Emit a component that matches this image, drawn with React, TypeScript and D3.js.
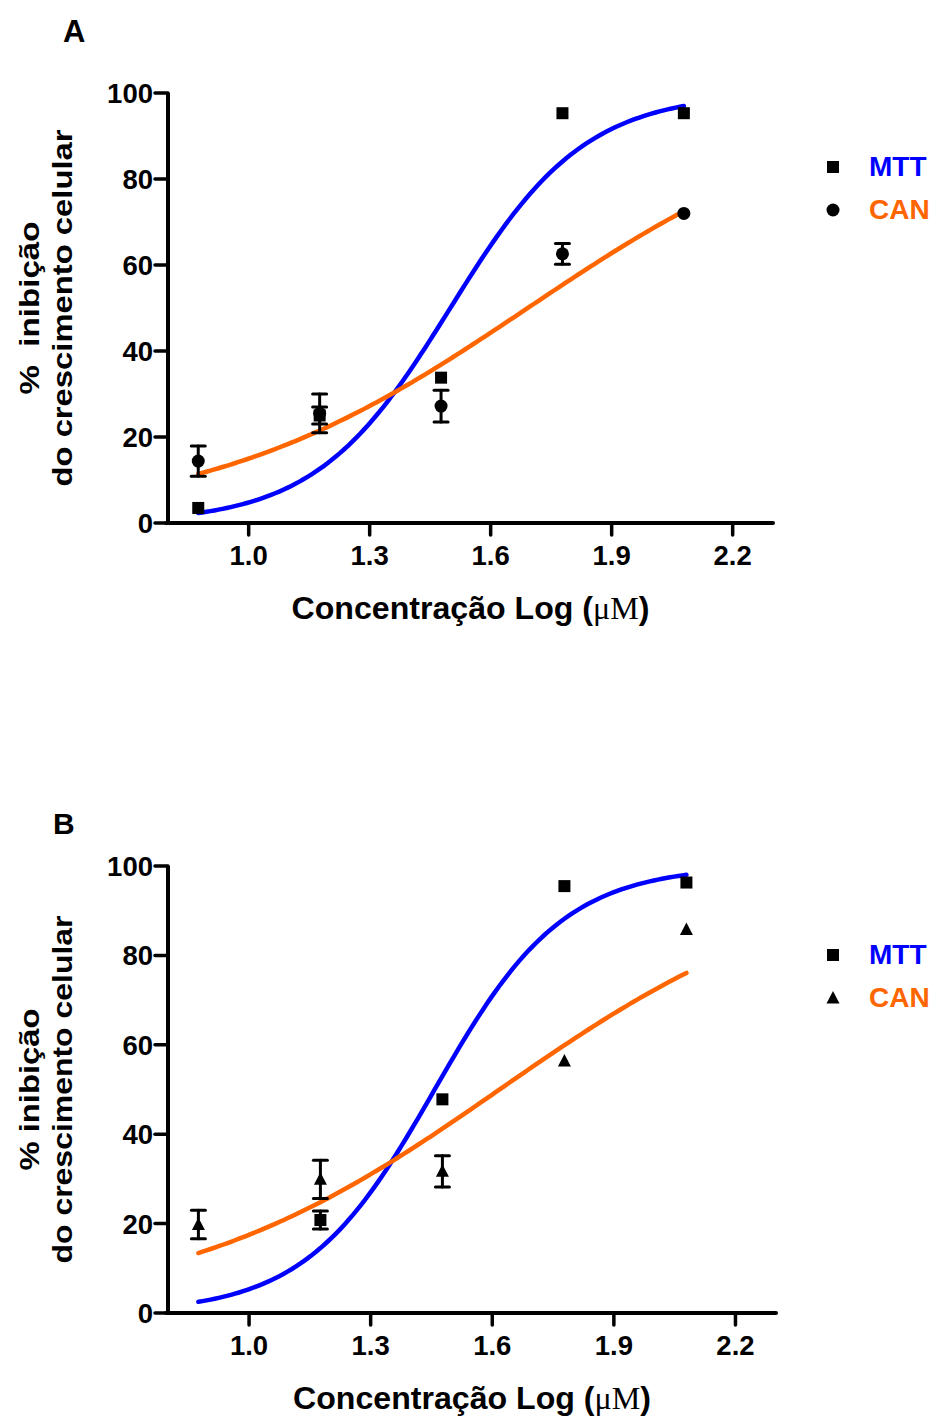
import React from 'react';
import * as d3 from 'd3';

// ---------- data ----------
const xTicks = [1.0, 1.3, 1.6, 1.9, 2.2];
const yTicks = [0, 20, 40, 60, 80, 100];
const logConc = [0.875, 1.176, 1.477, 1.778, 2.079];

// Panel A
const mttA: (number | null)[] = [3.5, 25.0, 33.8, 95.3, 95.3];
const mttAErr = [0, 2.0, 0, 0, 0];
const canA: (number | null)[] = [14.4, 25.5, 27.2, 62.6, 72.0];
const canAErr = [3.5, 4.5, 3.7, 2.4, 0];

// Panel B
const mttB: (number | null)[] = [null, 20.8, 47.8, 95.5, 96.3];
const mttBErr = [0, 2.0, 0, 0, 0];
const canB: (number | null)[] = [19.8, 29.9, 31.7, 56.4, 85.8];
const canBErr = [3.2, 4.3, 3.5, 0, 0];

// sigmoidal dose-response fits: [bottom, top, logEC50, hill slope]
const fitMttA = [0, 100, 1.5, 2.6];
const fitCanA = [0, 100, 1.692, 1.09];
const fitMttB = [0, 100, 1.458, 2.73];
const fitCanB = [0, 100, 1.618, 1.09];

const seriesNames = ['MTT', 'CAN'];
const BLUE = '#0000ff';
const ORANGE = '#ff6600';
const SANS = '"Liberation Sans", Arial, Helvetica, sans-serif';
const SERIF = '"Liberation Serif", "Times New Roman", serif';

function fitValue(p: number[], x: number) {
  const [b, t, ec, h] = p;
  return b + (t - b) / (1 + Math.pow(10, (ec - x) * h));
}

type Shape = 'square' | 'circle' | 'triangle';

function Marker({ shape, cx, cy }: { shape: Shape; cx: number; cy: number }) {
  if (shape === 'square') return <rect x={cx - 6} y={cy - 6} width={12} height={12} fill="#000" />;
  if (shape === 'circle') return <circle cx={cx} cy={cy} r={6.5} fill="#000" />;
  return <path d={`M${cx},${cy - 7}L${cx + 6.5},${cy + 5.5}L${cx - 6.5},${cy + 5.5}Z`} fill="#000" />;
}

type PanelProps = {
  x0: number; x1: number; yTop: number; yBot: number;
  mtt: (number | null)[]; mttErr: number[];
  can: (number | null)[]; canErr: number[];
  fitMtt: number[]; fitCan: number[];
  canShape: Shape;
  label: string; labelX: number; labelY: number; labelSize: number;
  yTitle1: string; yTitle1Len: number; yTitle2Len: number;
  legX: number; legTextX: number; legY1: number; legY2: number;
};

function Panel(p: PanelProps) {
  const x = d3.scaleLinear().domain([0.8, 2.3]).range([p.x0, p.x1]);
  const y = d3.scaleLinear().domain([0, 100]).range([p.yBot, p.yTop]);
  const xs = d3.range(0, 121).map((i) => logConc[0] + (logConc[4] - logConc[0]) * (i / 120));
  const mttPath = d3.line<number>().x((d) => x(d)).y((d) => y(fitValue(p.fitMtt, d)))(xs) || '';
  const canPath = d3.line<number>().x((d) => x(d)).y((d) => y(fitValue(p.fitCan, d)))(xs) || '';
  const yMid = (p.yTop + p.yBot) / 2;
  const xMid = (p.x0 + p.x1) / 2;

  const errBars = (vals: (number | null)[], errs: number[], key: string) =>
    vals.map((v, i) => {
      if (v == null || !errs[i]) return null;
      const cx = x(logConc[i]);
      const yA = y(v + errs[i]);
      const yB = y(v - errs[i]);
      return (
        <g key={key + i} stroke="#000" strokeWidth={3} strokeLinecap="round">
          <line x1={cx} x2={cx} y1={yA} y2={yB} />
          <line x1={cx - 7} x2={cx + 7} y1={yA} y2={yA} />
          <line x1={cx - 7} x2={cx + 7} y1={yB} y2={yB} />
        </g>
      );
    });

  return (
    <g>
      <text x={p.labelX} y={p.labelY} fontFamily={SANS} fontWeight="bold" fontSize={p.labelSize}>{p.label}</text>

      {/* axes */}
      <g stroke="#000" strokeWidth={4} fill="none">
        <line x1={p.x0} x2={p.x0} y1={p.yTop} y2={p.yBot + 2} />
        <line x1={p.x0 - 2} x2={p.x1} y1={p.yBot} y2={p.yBot} strokeLinecap="round" />
        {yTicks.map((t) => (
          <line key={'yt' + t} x1={p.x0 - 13} x2={p.x0} y1={y(t)} y2={y(t)} strokeWidth={3.5} strokeLinecap="round" />
        ))}
        {xTicks.map((t) => (
          <line key={'xt' + t} x1={x(t)} x2={x(t)} y1={p.yBot} y2={p.yBot + 12} strokeWidth={3.5} strokeLinecap="round" />
        ))}
      </g>
      <g fontFamily={SANS} fontWeight="bold" fontSize={27.5} fill="#000">
        {yTicks.map((t) => (
          <text key={'yl' + t} x={p.x0 - 15} y={y(t)} dy="0.36em" textAnchor="end">{t}</text>
        ))}
        {xTicks.map((t) => (
          <text key={'xl' + t} x={x(t)} y={p.yBot + 42} textAnchor="middle">{t.toFixed(1)}</text>
        ))}
      </g>

      {/* axis titles */}
      <text x={xMid} y={p.yBot + 96} textAnchor="middle" fontFamily={SANS} fontWeight="bold" fontSize={30.5}
        textLength={358} lengthAdjust="spacingAndGlyphs">
        Concentração Log (<tspan fontFamily={SERIF} fontWeight="normal">μM</tspan>)
      </text>
      <g fontFamily={SANS} fontWeight="bold" fontSize={28} textAnchor="middle">
        <text transform={`translate(39,${yMid}) rotate(-90)`} style={{ whiteSpace: 'pre' }}
          textLength={p.yTitle1Len} lengthAdjust="spacingAndGlyphs">{p.yTitle1}</text>
        <text transform={`translate(72,${yMid}) rotate(-90)`}
          textLength={p.yTitle2Len} lengthAdjust="spacingAndGlyphs">do crescimento celular</text>
      </g>

      {/* fitted curves */}
      <path d={mttPath} fill="none" stroke={BLUE} strokeWidth={4.5} strokeLinecap="round" />
      <path d={canPath} fill="none" stroke={ORANGE} strokeWidth={4.5} strokeLinecap="round" />

      {/* error bars and points */}
      {errBars(p.can, p.canErr, 'ce')}
      {errBars(p.mtt, p.mttErr, 'me')}
      {p.mtt.map((v, i) => (v == null ? null : <Marker key={'m' + i} shape="square" cx={x(logConc[i])} cy={y(v)} />))}
      {p.can.map((v, i) => (v == null ? null : <Marker key={'c' + i} shape={p.canShape} cx={x(logConc[i])} cy={y(v)} />))}

      {/* legend */}
      <Marker shape="square" cx={p.legX} cy={p.legY1 - 9} />
      <Marker shape={p.canShape} cx={p.legX} cy={p.legY2 - 9} />
      <text x={p.legTextX} y={p.legY1} fontFamily={SANS} fontWeight="bold" fontSize={28} fill={BLUE}>{seriesNames[0]}</text>
      <text x={p.legTextX} y={p.legY2} fontFamily={SANS} fontWeight="bold" fontSize={28} fill={ORANGE}>{seriesNames[1]}</text>
    </g>
  );
}

export default function App() {
  return (
    <svg width={934} height={1421} style={{ position: 'absolute', left: 0, top: 0, background: '#fff' }}>
      <rect width={934} height={1421} fill="#fff" />
      <Panel x0={168} x1={773} yTop={93} yBot={523}
        mtt={mttA} mttErr={mttAErr} can={canA} canErr={canAErr}
        fitMtt={fitMttA} fitCan={fitCanA} canShape="circle"
        label="A" labelX={63} labelY={42} labelSize={31}
        yTitle1={'%  inibição'} yTitle1Len={173} yTitle2Len={357}
        legX={833} legTextX={869} legY1={176} legY2={219} />
      <Panel x0={168} x1={776} yTop={866} yBot={1313}
        mtt={mttB} mttErr={mttBErr} can={canB} canErr={canBErr}
        fitMtt={fitMttB} fitCan={fitCanB} canShape="triangle"
        label="B" labelX={53} labelY={834} labelSize={30}
        yTitle1={'% inibição'} yTitle1Len={162} yTitle2Len={348}
        legX={833} legTextX={869} legY1={964} legY2={1007} />
    </svg>
  );
}
